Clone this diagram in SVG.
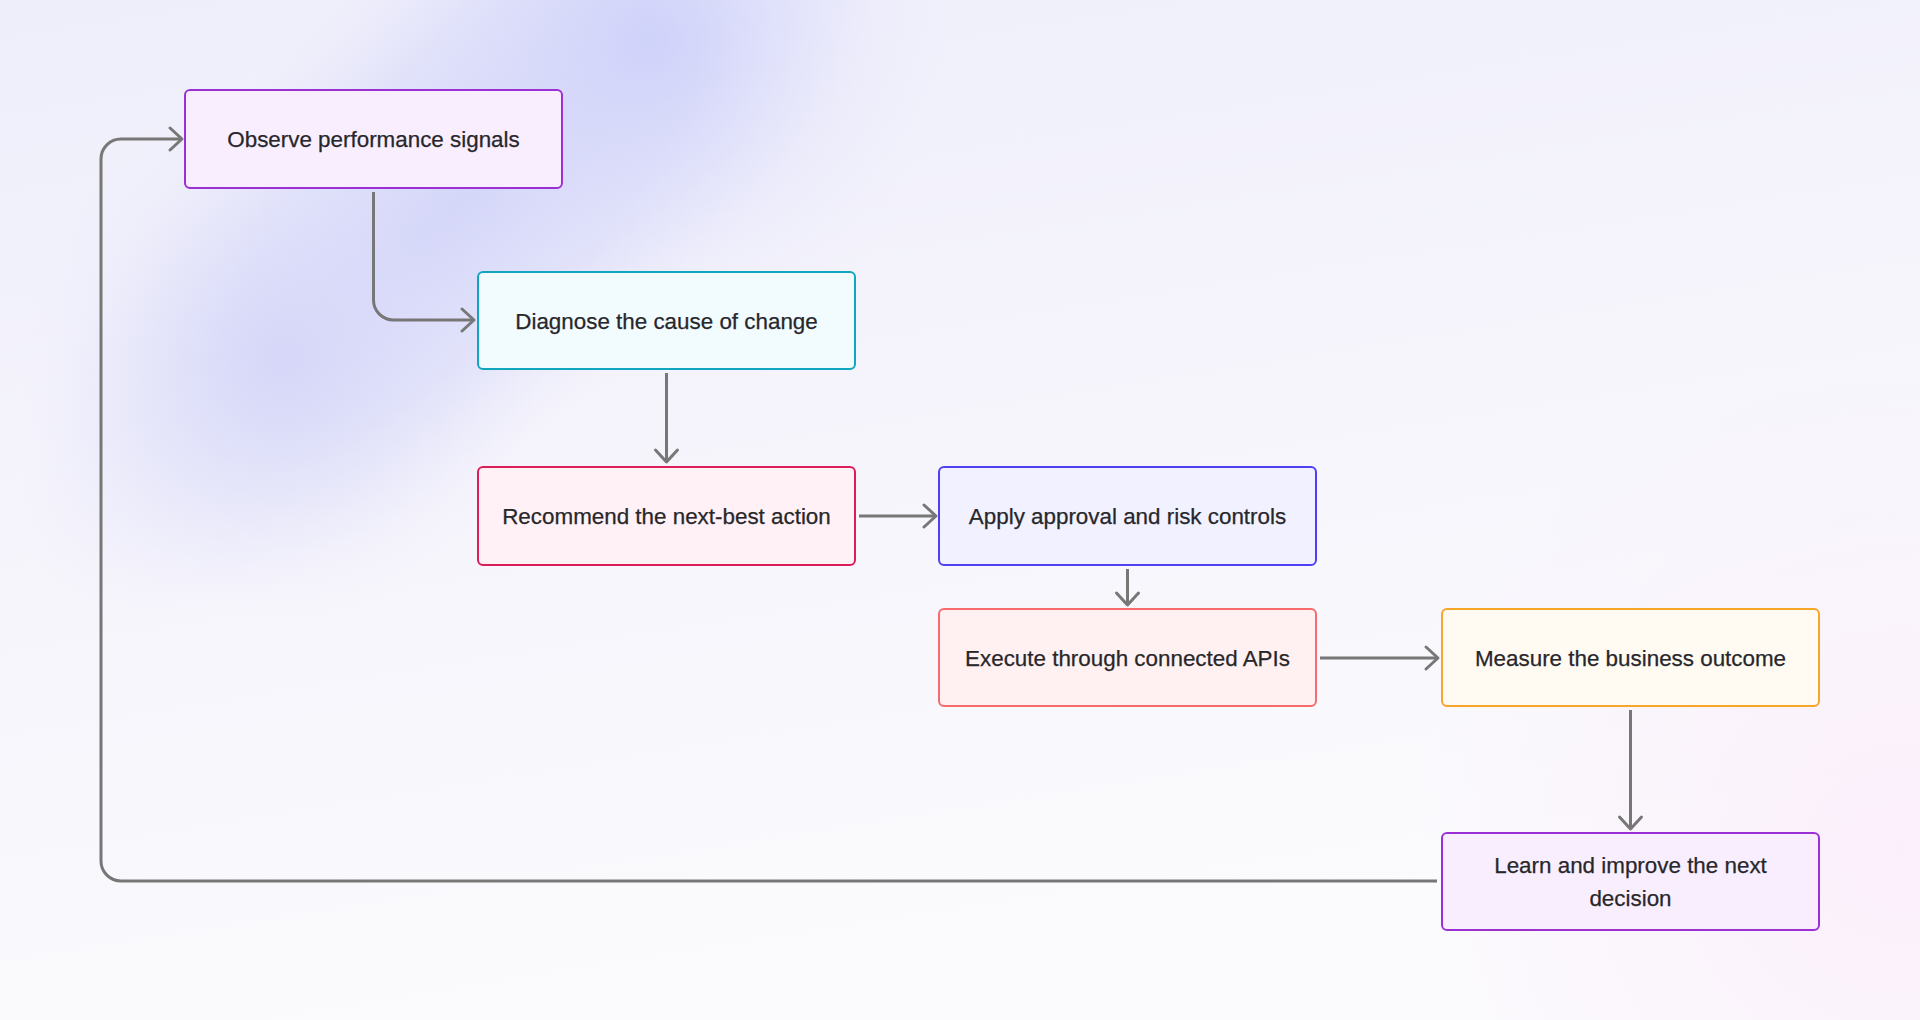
<svg xmlns="http://www.w3.org/2000/svg" width="1920" height="1020" viewBox="0 0 1920 1020">
<defs>
<linearGradient id="bg" x1="0" y1="0" x2="0.3" y2="1">
<stop offset="0" stop-color="#eeeefb"/>
<stop offset="0.55" stop-color="#f6f5fc"/>
<stop offset="1" stop-color="#fbfbfd"/>
</linearGradient>
<radialGradient id="band" cx="0" cy="0" r="1" gradientUnits="userSpaceOnUse" gradientTransform="translate(460,200) rotate(-43) scale(560,230)">
<stop offset="0" stop-color="#d0d2f9" stop-opacity="0.95"/>
<stop offset="0.55" stop-color="#d6d8f9" stop-opacity="0.6"/>
<stop offset="1" stop-color="#e4e4fa" stop-opacity="0"/>
</radialGradient>
<radialGradient id="blob1" cx="650" cy="40" r="300" gradientUnits="userSpaceOnUse">
<stop offset="0" stop-color="#cbcefa" stop-opacity="0.8"/>
<stop offset="1" stop-color="#e6e6fa" stop-opacity="0"/>
</radialGradient>
<radialGradient id="blob2" cx="280" cy="360" r="260" gradientUnits="userSpaceOnUse">
<stop offset="0" stop-color="#d2d3f8" stop-opacity="0.7"/>
<stop offset="1" stop-color="#e6e6fa" stop-opacity="0"/>
</radialGradient>
<radialGradient id="blob3" cx="1900" cy="850" r="500" gradientUnits="userSpaceOnUse">
<stop offset="0" stop-color="#fbeefb" stop-opacity="0.9"/>
<stop offset="1" stop-color="#fbeefb" stop-opacity="0"/>
</radialGradient>
<marker id="arr" viewBox="-15 -14 18 28" refX="0" refY="0" markerWidth="18" markerHeight="28" markerUnits="userSpaceOnUse" orient="auto">
<path d="M-12,-11 L0,0 L-12,11" fill="none" stroke="#777777" stroke-width="3" stroke-linecap="round" stroke-linejoin="round"/>
</marker>
<style>
.node rect{stroke-width:2}
.lbl{font-family:"Liberation Sans",Arial,sans-serif;font-size:22.4px;fill:#27272b;text-anchor:middle;stroke:#27272b;stroke-width:0.25px}
.conn path{fill:none;stroke:#777777;stroke-width:3;marker-end:url(#arr)}
</style>
</defs>
<rect width="1920" height="1020" fill="url(#bg)"/>
<rect width="1920" height="1020" fill="url(#band)"/>
<rect width="1920" height="1020" fill="url(#blob1)"/>
<rect width="1920" height="1020" fill="url(#blob2)"/>
<rect width="1920" height="1020" fill="url(#blob3)"/>

<g id="connectors" class="conn">
<path d="M373.5,192 V300 A20,20 0 0 0 393.5,320 H474"/>
<path d="M666.5,373 V462"/>
<path d="M859,516 H936"/>
<path d="M1127.5,569 V605"/>
<path d="M1320,658 H1438"/>
<path d="M1630.5,710 V829"/>
<path d="M1437,881 H121 A20,20 0 0 1 101,861 V159 A20,20 0 0 1 121,139 H182"/>
</g>

<g id="observe" class="node">
<rect x="185" y="90" width="377" height="98" rx="5" fill="#f9eefe" stroke="#9b30d4"/>
<text class="lbl" x="373.5" y="147">Observe performance signals</text>
</g>
<g id="diagnose" class="node">
<rect x="478" y="272" width="377" height="97" rx="5" fill="#f2fcfe" stroke="#11a6c0"/>
<text class="lbl" x="666.5" y="329">Diagnose the cause of change</text>
</g>
<g id="recommend" class="node">
<rect x="478" y="467" width="377" height="98" rx="5" fill="#fff1f5" stroke="#dc1d58"/>
<text class="lbl" x="666.5" y="524">Recommend the next-best action</text>
</g>
<g id="apply" class="node">
<rect x="939" y="467" width="377" height="98" rx="5" fill="#f2f1ff" stroke="#5040f5"/>
<text class="lbl" x="1127.5" y="524">Apply approval and risk controls</text>
</g>
<g id="execute" class="node">
<rect x="939" y="609" width="377" height="97" rx="5" fill="#fff1f1" stroke="#f76b6f"/>
<text class="lbl" x="1127.5" y="666">Execute through connected APIs</text>
</g>
<g id="measure" class="node">
<rect x="1442" y="609" width="377" height="97" rx="5" fill="#fffaf2" stroke="#f7a627"/>
<text class="lbl" x="1630.5" y="666">Measure the business outcome</text>
</g>
<g id="learn" class="node">
<rect x="1442" y="833" width="377" height="97" rx="5" fill="#f9eefe" stroke="#9b30d4"/>
<text class="lbl" x="1630.5" y="873">Learn and improve the next</text>
<text class="lbl" x="1630.5" y="906">decision</text>
</g>
</svg>
